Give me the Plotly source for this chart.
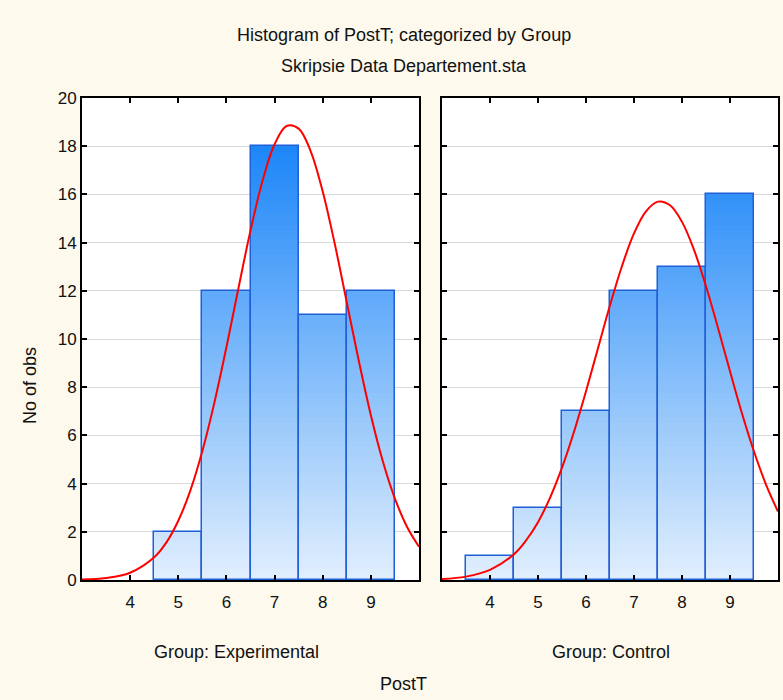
import plotly.graph_objects as go

# ---- data ----
bins = [4, 5, 6, 7, 8, 9]
exp_counts = [0, 2, 12, 18, 11, 12]
ctl_counts = [1, 3, 7, 12, 13, 16]

curve_x = [3.0, 3.5, 4.0, 4.5, 4.75, 5.0, 5.25, 5.5, 5.75, 6.0, 6.25, 6.5, 6.75, 7.0, 7.25,
           7.5, 7.75, 8.0, 8.25, 8.5, 8.75, 9.0, 9.25, 9.5, 9.75, 10.0]
exp_curve_y = [0.02, 0.08, 0.30, 0.94, 1.55, 2.46, 3.71, 5.35, 7.36, 9.66, 12.11, 14.5, 16.57, 18.08, 18.84,
               18.73, 17.79, 16.12, 13.95, 11.52, 9.09, 6.84, 4.92, 3.38, 2.21, 1.38]
ctl_curve_y = [0.04, 0.14, 0.42, 1.07, 1.64, 2.40, 3.41, 4.66, 6.15, 7.83, 9.62, 11.4, 13.03, 14.38, 15.30,
               15.70, 15.55, 14.86, 13.70, 12.19, 10.46, 8.66, 6.91, 5.33, 3.96, 2.84]

x_ticks = [4, 5, 6, 7, 8, 9]
y_ticks = [0, 2, 4, 6, 8, 10, 12, 14, 16, 18, 20]

title_text = "Histogram of PostT; categorized by Group"
subtitle_text = "Skripsie Data Departement.sta"
panel_labels = ["Group: Experimental", "Group: Control"]
x_title = "PostT"
y_title = "No of obs"

# ---- styling ----
W, H = 783, 700
BG = "#fdf9ed"
FONT = "Liberation Sans, Arial, sans-serif"
TXT = "#111111"
BOTTOM_RGB = (226, 239, 253)
TOP_RGB = (28, 134, 248)
TOP_LEVEL = 18.0
STEP = 0.25

fig = go.Figure()


def color_at(v):
    t = max(0.0, min(1.0, v / TOP_LEVEL))
    r = [round(BOTTOM_RGB[i] + (TOP_RGB[i] - BOTTOM_RGB[i]) * t) for i in range(3)]
    return f"rgb({r[0]},{r[1]},{r[2]})"


def add_panel(counts, cx, cy, xa, ya):
    top = max(counts)
    n = int(round(top / STEP))
    for k in range(n):
        lo = k * STEP
        hs = [min(max(c - lo, 0), STEP) for c in counts]
        fig.add_trace(go.Bar(
            x=bins, y=hs, base=[lo] * len(bins), width=1.0,
            marker=dict(color=color_at(lo + STEP / 2), line=dict(width=0)),
            xaxis=xa, yaxis=ya, showlegend=False, hoverinfo="skip"))
    fig.add_trace(go.Bar(
        x=bins, y=[c if c > 0 else None for c in counts], width=1.0,
        marker=dict(color="rgba(0,0,0,0)", line=dict(color="#1f5fd8", width=1.5)),
        xaxis=xa, yaxis=ya, showlegend=False))
    fig.add_trace(go.Scatter(
        x=cx, y=cy, mode="lines", line=dict(color="#ff0000", width=2, shape="spline", smoothing=1),
        xaxis=xa, yaxis=ya, showlegend=False, cliponaxis=True))


add_panel(exp_counts, curve_x, exp_curve_y, "x", "y")
add_panel(ctl_counts, curve_x, ctl_curve_y, "x2", "y2")

px = lambda v: v / W
py = lambda v: 1 - v / H

x_dom1 = [px(82), px(419)]
x_dom2 = [px(442), px(778)]
y_dom = [py(580), py(98)]

axis_common = dict(showline=True, linecolor="#000000", linewidth=2, mirror="ticks",
                   ticks="inside", ticklen=5, tickwidth=1.5, tickcolor="#000000",
                   zeroline=False, automargin=False,
                   tickfont=dict(family=FONT, size=17, color=TXT))

fig.update_layout(
    width=W, height=H, autosize=False, paper_bgcolor=BG, plot_bgcolor="#ffffff",
    margin=dict(l=0, r=0, t=0, b=0, pad=0, autoexpand=False), barmode="overlay", bargap=0,
    showlegend=False, font=dict(family=FONT, color=TXT),
    xaxis=dict(domain=x_dom1, range=[3, 10], tickvals=x_ticks, showgrid=False, anchor="y",
               ticklabelstandoff=6, **axis_common),
    yaxis=dict(domain=y_dom, range=[0, 20], tickvals=y_ticks, showgrid=True, gridcolor="#d9d9d9",
               gridwidth=1, anchor="x", **axis_common),
    xaxis2=dict(domain=x_dom2, range=[3, 10], tickvals=x_ticks, showgrid=False, anchor="y2",
                ticklabelstandoff=6, **axis_common),
    yaxis2=dict(domain=y_dom, range=[0, 20], tickvals=y_ticks, showgrid=True, gridcolor="#d9d9d9",
                gridwidth=1, anchor="x2", showticklabels=False, **axis_common),
)

ann = [
    dict(text=title_text, x=px(403.5), y=py(35), size=18),
    dict(text=subtitle_text, x=px(403.5), y=py(66), size=18),
    dict(text=panel_labels[0], x=px(236.5), y=py(652), size=18),
    dict(text=panel_labels[1], x=px(611), y=py(652), size=18),
    dict(text=x_title, x=px(403), y=py(684), size=18),
]
for a in ann:
    fig.add_annotation(text=a["text"], x=a["x"], y=a["y"], xref="paper", yref="paper",
                       xanchor="center", yanchor="middle", showarrow=False,
                       font=dict(family=FONT, size=a["size"], color=TXT))
fig.add_annotation(text=y_title, x=px(30), y=py(385), xref="paper", yref="paper",
                   xanchor="center", yanchor="middle", showarrow=False, textangle=-90,
                   font=dict(family=FONT, size=18, color=TXT))

fig.write_html("out.html", config={"displayModeBar": False},
               post_script="document.body.style.margin='0';document.body.style.background='" + BG + "';")
